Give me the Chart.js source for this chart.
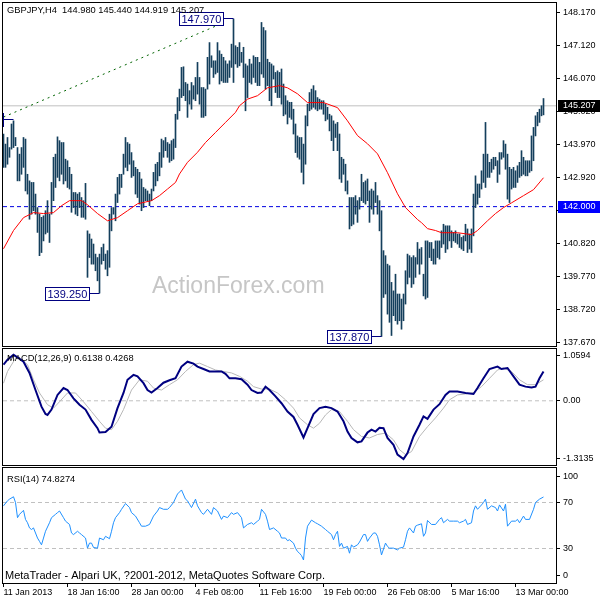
<!DOCTYPE html>
<html>
<head>
<meta charset="utf-8">
<title>GBPJPY H4</title>
<script src="https://cdn.jsdelivr.net/npm/chart.js@4/dist/chart.umd.min.js"></script>
<style>
  html, body { margin: 0; padding: 0; background: #fff; }
  #wrap { position: relative; width: 600px; height: 600px; overflow: hidden; background: #fff; }
  #wrap canvas { position: absolute; left: 0; }
</style>
</head>
<body>
<div id="wrap">
  <canvas id="priceChart" width="600" height="347" style="top:0"></canvas>
  <canvas id="macdChart" width="600" height="119" style="top:347px"></canvas>
  <canvas id="rsiChart" width="600" height="134" style="top:466px"></canvas>
</div>
<script>
// time axis: one H4 bar per index, labels every 32 bars
const tickBars = [0, 32, 64, 96, 128, 160, 192, 224, 256];
const tickLabels = ['11 Jan 2013', '18 Jan 16:00', '28 Jan 00:00', '4 Feb 08:00', '11 Feb 16:00',
  '19 Feb 00:00', '26 Feb 08:00', '5 Mar 16:00', '13 Mar 00:00'];

const priceTicks = [148.17, 147.12, 146.07, 145.02, 143.97, 142.92, 141.87, 140.82, 139.77, 138.72, 137.67];

const highs = [
  144.31,143.99,144.20,143.88,144.63,144.73,144.20,143.88,143.67,143.88,
  144.20,144.15,143.03,142.82,142.77,142.77,142.40,141.97,141.76,141.66,
  141.71,141.87,142.19,141.76,142.77,143.57,143.67,144.22,144.10,144.04,
  144.04,143.51,143.46,143.25,143.03,142.45,142.45,142.40,142.45,142.29,
  142.19,142.74,141.23,141.13,140.97,140.81,140.49,140.38,140.49,140.70,
  140.81,140.49,140.60,141.76,141.97,141.97,142.40,142.93,143.03,143.03,
  143.67,144.20,144.04,143.99,143.72,143.46,143.25,143.19,143.09,142.88,
  142.61,142.56,142.50,142.40,142.56,143.09,143.35,143.41,143.72,144.15,
  144.10,144.20,144.04,143.99,144.10,144.15,144.94,145.47,145.74,146.43,
  146.45,145.95,145.90,145.69,145.95,145.85,146.11,146.59,146.11,145.79,
  145.79,145.74,146.75,147.22,146.80,146.64,146.64,147.22,146.96,146.85,
  146.75,146.64,146.54,146.64,147.17,147.97,147.12,147.07,147.22,146.91,
  147.07,146.54,146.48,146.69,146.54,146.80,146.75,146.75,146.59,147.86,
  147.70,147.60,146.69,146.59,146.54,146.48,146.27,146.32,146.27,146.38,
  145.90,145.53,145.37,145.32,145.32,145.10,144.63,144.25,144.20,144.20,
  143.99,144.89,145.26,145.63,145.74,145.85,145.69,145.47,145.42,145.37,
  145.37,145.26,145.16,144.94,144.89,144.73,144.63,144.68,144.31,143.57,
  143.51,143.35,142.82,142.29,142.29,142.29,142.35,142.19,142.29,143.03,
  142.77,142.82,142.88,142.50,142.56,142.50,142.77,142.35,142.19,141.87,
  140.60,140.44,140.17,140.12,139.59,139.32,139.85,139.22,139.22,139.06,
  139.22,139.96,140.49,140.44,140.38,140.44,140.38,140.86,140.65,140.70,
  139.85,140.91,140.91,140.86,140.86,140.65,140.91,140.91,140.91,141.23,
  141.44,141.39,141.39,141.39,141.23,141.18,141.23,141.13,141.13,141.02,
  141.07,141.44,141.29,141.13,141.29,142.40,142.98,142.72,142.72,143.14,
  143.67,144.68,143.67,143.41,143.51,143.57,143.57,143.46,143.72,143.72,
  144.10,143.99,143.67,143.25,143.19,143.25,143.14,143.30,143.41,143.78,
  143.57,143.46,143.46,143.46,144.25,144.52,144.89,145.00,145.10,145.21,
  145.44
];
const lows = [
  143.25,143.25,143.35,143.57,143.83,143.88,143.94,142.82,142.82,143.03,
  143.25,142.50,142.40,141.60,141.76,141.87,141.76,141.18,140.44,140.54,
  140.91,141.13,141.18,140.86,141.76,142.19,142.61,142.93,142.82,143.03,
  142.72,142.82,142.61,142.56,141.82,141.97,141.76,141.71,141.97,141.66,
  141.66,141.60,139.75,140.38,140.17,140.17,139.96,139.64,139.25,140.17,
  140.28,140.01,139.80,140.07,141.23,141.76,141.55,142.13,142.40,142.61,
  143.03,143.25,143.14,143.35,142.93,142.98,142.40,142.29,142.08,141.87,
  141.97,142.19,142.19,142.03,142.19,142.50,142.66,142.82,142.98,143.25,
  143.57,143.78,143.57,143.41,143.46,143.51,143.88,144.78,145.05,145.47,
  145.53,145.37,144.84,145.26,145.10,145.42,145.37,145.58,145.26,144.84,
  144.84,144.89,145.74,145.90,146.43,146.11,146.22,146.27,145.90,146.00,
  145.95,145.95,145.95,146.11,146.43,145.95,146.54,146.43,146.48,146.59,
  146.11,145.05,145.47,145.95,145.90,146.11,145.95,145.85,145.85,146.22,
  146.11,145.74,145.85,145.37,145.21,146.06,145.63,145.47,145.47,145.26,
  144.89,144.94,144.63,144.84,144.78,144.31,143.72,143.57,143.51,143.09,
  142.72,143.35,144.57,145.05,145.10,145.16,145.10,145.05,145.10,145.10,
  144.94,144.73,144.78,144.41,144.10,143.78,144.20,143.78,142.88,142.77,
  143.03,142.50,142.40,141.29,141.39,141.44,141.76,141.50,141.92,142.19,
  142.13,142.08,142.19,141.50,141.92,141.76,142.13,141.76,141.23,137.87,
  139.11,139.22,138.58,138.32,137.90,138.53,138.37,138.26,138.37,138.10,
  138.37,138.90,139.54,139.75,139.43,139.54,139.75,140.17,139.85,140.17,
  139.16,139.06,139.11,140.38,140.28,140.17,140.17,140.38,140.33,140.70,
  140.81,140.54,140.65,140.91,140.70,140.91,140.86,140.81,140.70,140.65,
  140.60,140.91,140.54,140.65,140.54,141.07,141.97,142.08,142.29,142.56,
  142.77,142.61,142.93,142.93,143.09,143.19,143.30,142.77,143.03,143.51,
  143.57,143.19,142.24,142.13,142.56,142.61,142.61,142.77,142.93,142.98,
  143.03,142.98,142.98,143.09,143.14,143.46,144.25,144.57,144.68,144.89,
  144.92
];

// red moving average, read at these bars
const maBars = [0,5,10,15,20,25,29,33,39,42,47,52,57,62,67,
  74,78,82,86,88,92,97,101,106,111,116,118,122,127,132,138,
  142,147,152,160,167,172,177,182,187,192,197,201,207,209,212,216,219,227,234,237,242,246,250,254,260,265,270];
const maValues = [140.66,141.24,141.65,141.81,141.78,141.81,142.03,142.19,142.19,142.06,141.78,141.55,141.65,141.87,142.09,
  142.19,142.35,142.56,142.77,143.04,143.41,143.73,144.04,144.36,144.68,145.00,145.21,145.42,145.53,145.78,145.85,
  145.78,145.59,145.31,145.31,145.15,144.73,144.26,144.00,143.68,143.08,142.41,141.97,141.59,141.49,141.30,141.24,
  141.17,141.17,141.11,141.24,141.55,141.78,141.97,142.12,142.35,142.54,142.92];

const bidPrice = 145.207;
const supportPrice = 142.000;
const trendBars = [0, 110];
const trendPrices = [144.85, 147.85];
const swingBars = [115, 48, 189, 5];
const swingPrices = [147.97, 139.25, 137.87, 144.78];
const swingTexts = ['147.970', '139.250', '137.870', '144.780'];

const macdBars = [0,2,5,7,10,13,16,19,21,22,24,27,30,32,35,38,41,44,47,48,51,54,57,60,62,65,67,70,72,74,
  77,80,83,86,89,92,95,97,100,103,106,109,111,113,116,119,122,124,127,129,131,133,136,139,142,145,147,150,152,155,
  158,161,164,167,170,172,174,177,179,182,184,186,188,190,192,195,197,200,202,205,208,210,212,215,218,221,223,227,231,235,
  237,240,243,247,249,252,255,258,261,264,266,268,270];
const macdValues = [0.74,0.84,0.94,0.89,0.80,0.57,0.22,-0.12,-0.27,-0.29,-0.18,0.12,0.26,0.22,0.05,-0.08,-0.18,-0.39,-0.56,-0.65,
  -0.64,-0.53,-0.15,0.16,0.43,0.53,0.50,0.36,0.22,0.17,0.26,0.37,0.42,0.46,0.70,0.80,0.76,0.70,0.65,0.60,
  0.60,0.60,0.55,0.46,0.46,0.44,0.33,0.22,0.16,0.17,0.29,0.22,0.09,-0.05,-0.22,-0.33,-0.49,-0.75,-0.56,-0.27,
  -0.15,-0.12,-0.15,-0.22,-0.42,-0.63,-0.76,-0.85,-0.83,-0.65,-0.59,-0.63,-0.55,-0.56,-0.76,-0.90,-1.10,-1.19,-1.07,-0.73,
  -0.49,-0.32,-0.37,-0.18,-0.07,0.12,0.19,0.19,0.16,0.14,0.26,0.46,0.65,0.70,0.65,0.67,0.50,0.33,0.29,0.27,
  0.29,0.46,0.60];
const signalBars = [0,2,6,9,12,15,18,22,25,28,32,36,40,44,48,51,54,57,60,64,68,72,75,79,83,87,91,95,98,102,
  106,110,114,118,122,125,129,133,137,141,145,148,152,155,158,161,164,168,172,175,179,183,187,191,195,198,201,204,208,212,
  216,220,223,227,231,235,239,243,247,250,254,258,262,266,270];
const signalValues = [0.36,0.60,0.87,0.84,0.74,0.43,0.16,-0.08,-0.15,-0.02,0.16,0.16,-0.02,-0.22,-0.42,-0.56,-0.59,-0.42,-0.18,0.22,
  0.43,0.40,0.26,0.22,0.33,0.43,0.60,0.74,0.77,0.70,0.63,0.60,0.57,0.50,0.40,0.29,0.24,0.24,0.16,0.02,
  -0.15,-0.35,-0.49,-0.56,-0.46,-0.29,-0.18,-0.22,-0.42,-0.59,-0.73,-0.76,-0.69,-0.66,-0.80,-1.00,-1.10,-1.04,-0.73,-0.53,
  -0.35,-0.15,0.02,0.12,0.14,0.17,0.29,0.46,0.63,0.67,0.60,0.43,0.33,0.33,0.43];
const macdTickPos = [0.92, 0, -1.19];
const macdTickText = ['1.0594', '0.00', '-1.3135'];

const rsiBars = [0,2,3,5,6,7,8,10,11,12,13,14,15,17,18,19,20,21,23,24,26,27,28,30,31,33,34,35,37,38,
  39,41,42,43,44,45,47,48,50,51,53,54,55,56,58,59,61,63,64,66,68,69,71,73,75,77,78,80,82,83,
  85,87,89,91,92,93,94,96,97,99,100,102,104,105,107,109,110,112,114,115,117,119,120,122,124,125,127,128,129,131,
  132,133,135,137,138,139,141,142,143,145,146,147,148,149,150,151,152,154,156,157,159,161,162,164,165,166,167,168,169,170,
  172,173,174,175,177,178,180,181,182,183,185,186,187,188,189,191,192,193,195,197,198,200,201,202,203,205,206,207,209,210,
  211,212,214,216,218,219,220,222,223,225,227,228,230,231,232,234,235,236,237,239,240,241,242,244,246,247,248,250,251,252,
  254,256,257,258,260,261,263,265,266,268,270];
const rsiValues = [67.1,71.5,72.9,75.0,70.0,56.8,59.7,63.2,55.3,52.4,47.9,46.5,47.9,39.1,36.2,33.2,39.1,45.0,52.4,56.8,
  59.7,61.2,62.6,56.8,53.8,50.9,43.5,42.1,45.0,43.5,42.1,39.1,30.3,34.7,34.7,30.9,30.3,39.1,37.6,40.6,
  38.5,45.0,52.4,56.8,61.2,64.1,69.1,65.6,61.2,58.2,52.4,49.4,49.4,50.9,58.2,62.6,65.6,64.1,64.1,65.6,
  70.0,77.4,80.9,72.9,71.5,68.5,65.6,72.9,67.1,61.2,59.7,64.1,59.7,65.6,62.6,55.3,58.2,56.8,61.2,59.7,
  61.2,56.8,47.9,50.9,52.4,50.9,53.8,55.3,64.1,59.7,53.8,46.5,47.9,45.0,43.5,39.1,39.1,36.8,37.6,34.7,
  30.3,27.4,25.9,23.8,20.0,39.1,49.4,54.7,52.4,51.5,49.4,46.5,45.0,42.1,37.6,42.1,45.0,31.8,34.7,30.3,
  31.8,25.9,33.2,31.2,33.2,35.6,42.1,42.1,36.2,39.1,43.5,43.5,40.6,33.2,24.4,34.7,31.8,30.3,30.3,28.8,
  30.3,31.2,37.6,45.0,47.9,43.5,49.4,50.3,51.5,40.6,43.5,54.4,50.9,50.9,55.3,56.8,52.4,55.3,53.8,53.8,
  53.8,52.4,53.8,55.3,50.9,52.4,62.6,67.1,64.1,67.9,70.0,72.9,64.1,67.1,65.6,62.6,67.9,62.6,68.5,49.4,
  53.8,53.8,55.3,52.4,58.2,55.3,55.3,64.1,70.0,72.9,74.8];
const rsiLevels = [70, 30];
const rsiTickPos = [93, 70, 30, 6.5];
const rsiTickText = ['100', '70', '30', '0'];

const FONT = "'Liberation Sans', Arial, sans-serif";
Chart.defaults.font.family = FONT;
Chart.defaults.font.size = 9;
Chart.defaults.color = '#000';

const X_MIN = -0.25, X_MAX = 276.25;
const BAR_COLOR = '#143f5c';

function pts(xs, ys) {
  return xs.map((x, k) => ({ x: x, y: ys[k] }));
}

function flat(v) {
  return [{ x: X_MIN, y: v }, { x: X_MAX, y: v }];
}

function xAxis(show) {
  return {
    type: 'linear', min: X_MIN, max: X_MAX, offset: false, bounds: 'data', display: show,
    border: { display: false },
    grid: { drawOnChartArea: false, drawTicks: true, tickLength: 4, color: '#000', offset: false },
    ticks: { autoSkip: false, maxRotation: 0, minRotation: 0, align: 'start', padding: 0,
      callback: (v, i) => tickLabels[i] },
    afterBuildTicks: s => { s.ticks = tickBars.map(v => ({ value: v })); },
    afterFit: s => {
      s.height = show ? 17 : 0;
      s.paddingLeft = 0; s.paddingRight = 0;
    }
  };
}

function yAxis(min, max, pos, text) {
  return {
    position: 'right', min: min, max: max, bounds: 'data',
    border: { display: true, color: '#000' },
    grid: { drawOnChartArea: false, drawTicks: true, tickLength: 4, color: '#000' },
    ticks: { autoSkip: false, padding: 3, callback: (v, i) => text[i] },
    afterBuildTicks: s => { s.ticks = pos.map(v => ({ value: v })); },
    afterFit: s => { s.width = 44; s.paddingTop = 0; s.paddingBottom = 0; }
  };
}

const frame = {
  id: 'frame',
  afterDraw(chart) {
    const { ctx, chartArea: a } = chart;
    ctx.save();
    ctx.strokeStyle = '#000';
    ctx.lineWidth = 1;
    ctx.strokeRect(a.left - 0.5, a.top - 0.5, a.right - a.left + 1, a.bottom - a.top + 1);
    ctx.restore();
  }
};

const panelText = {
  id: 'panelText',
  afterDraw(chart, args, opts) {
    const ctx = chart.ctx;
    ctx.save();
    ctx.textBaseline = 'middle';
    ctx.textAlign = 'left';
    opts.items.forEach(t => {
      ctx.font = t.font || ('9.3px ' + FONT);
      ctx.fillStyle = '#000';
      ctx.fillText(t.text, t.x, t.y);
    });
    ctx.restore();
  }
};

const watermark = {
  id: 'watermark',
  beforeDatasetsDraw(chart) {
    const ctx = chart.ctx;
    ctx.save();
    ctx.font = '23px ' + FONT;
    ctx.fillStyle = '#c6c6c6';
    ctx.textBaseline = 'middle';
    ctx.fillText('ActionForex.com', 152, 287);
    ctx.restore();
  }
};

const labelBoxes = {
  id: 'labelBoxes',
  afterDatasetsDraw(chart) {
    const { ctx, chartArea: a, scales } = chart;
    ctx.save();
    ctx.beginPath();
    ctx.rect(a.left, a.top, a.right - a.left, a.bottom - a.top);
    ctx.clip();
    ctx.font = '11px ' + FONT;
    ctx.textBaseline = 'middle';
    ctx.lineWidth = 1;
    swingBars.forEach((b, k) => {
      const bx = scales.x.getPixelForValue(b);
      const yc = Math.floor(scales.y.getPixelForValue(swingPrices[k])) + 0.5;
      const right = bx - 10;
      const w = Math.round(ctx.measureText(swingTexts[k]).width) + 4;
      ctx.strokeStyle = '#000080';
      ctx.beginPath();
      ctx.moveTo(right, yc);
      ctx.lineTo(bx, yc);
      ctx.stroke();
      ctx.fillStyle = '#fff';
      ctx.fillRect(right - w, yc - 6, w, 13);
      ctx.strokeRect(right - w, yc - 6, w, 13);
      ctx.fillStyle = '#000080';
      ctx.fillText(swingTexts[k], right - w + 2, yc + 1);
    });
    ctx.restore();
  }
};

const axisTags = {
  id: 'axisTags',
  afterDraw(chart) {
    const { ctx, chartArea: a, scales } = chart;
    ctx.save();
    ctx.font = '9px ' + FONT;
    ctx.textBaseline = 'middle';
    [[bidPrice, '#000'], [supportPrice, '#0000ff']].forEach(([p, c]) => {
      const yc = Math.round(scales.y.getPixelForValue(p));
      ctx.fillStyle = c;
      ctx.fillRect(a.right + 2, yc - 6, 42, 12);
      ctx.fillStyle = '#fff';
      ctx.fillText(p.toFixed(3), a.right + 7, yc);
    });
    ctx.restore();
  }
};

const baseOptions = {
  responsive: false, animation: false, events: [], devicePixelRatio: 1
};

new Chart(document.getElementById('priceChart'), {
  type: 'bar',
  data: {
    datasets: [
      { type: 'line', data: flat(bidPrice), borderColor: '#c0c0c0', borderWidth: 1, pointRadius: 0, order: 6 },
      { type: 'line', data: flat(supportPrice), borderColor: '#0000e0', borderDash: [4, 3], borderWidth: 1, pointRadius: 0, order: 5 },
      { type: 'line', data: pts(trendBars, trendPrices), borderColor: '#006400', borderDash: [2, 4], borderWidth: 1, pointRadius: 0, order: 4 },
      { type: 'bar', data: highs.map((h, i) => ({ x: i, y: [lows[i], h] })), backgroundColor: BAR_COLOR,
        borderWidth: 0, barThickness: 1, order: 2 },
      { type: 'line', data: pts(maBars, maValues), borderColor: '#ff0000', borderWidth: 1, pointRadius: 0, order: 1 }
    ]
  },
  options: Object.assign({}, baseOptions, {
    layout: { padding: { left: 3, top: 3, right: 0, bottom: 1 } },
    plugins: {
      legend: { display: false }, tooltip: { enabled: false },
      panelText: { items: [{ text: 'GBPJPY,H4  144.980 145.440 144.919 145.207', x: 7, y: 10.5 }] }
    },
    scales: {
      x: xAxis(false),
      y: yAxis(137.566, 148.479, priceTicks, priceTicks.map(v => v.toFixed(3)))
    }
  }),
  plugins: [watermark, labelBoxes, frame, axisTags, panelText]
});

new Chart(document.getElementById('macdChart'), {
  type: 'line',
  data: {
    datasets: [
      { data: flat(0), borderColor: '#c0c0c0', borderDash: [4, 3], borderWidth: 1, pointRadius: 0, order: 3 },
      { data: pts(signalBars, signalValues), borderColor: '#b8b8b8', borderWidth: 1, pointRadius: 0, order: 2 },
      { data: pts(macdBars, macdValues), borderColor: '#000080', borderWidth: 2, pointRadius: 0, order: 1 }
    ]
  },
  options: Object.assign({}, baseOptions, {
    layout: { padding: { left: 3, top: 2, right: 0, bottom: 1 } },
    plugins: {
      legend: { display: false }, tooltip: { enabled: false },
      panelText: { items: [{ text: 'MACD(12,26,9) 0.6138 0.4268', x: 7, y: 11.5 }] }
    },
    scales: { x: xAxis(false), y: yAxis(-1.3135, 1.0594, macdTickPos, macdTickText) }
  }),
  plugins: [frame, panelText]
});

new Chart(document.getElementById('rsiChart'), {
  type: 'line',
  data: {
    datasets: rsiLevels.map(v => ({ data: flat(v), borderColor: '#c0c0c0', borderDash: [4, 3], borderWidth: 1, pointRadius: 0, order: 3 }))
      .concat([{ data: pts(rsiBars, rsiValues), borderColor: '#1e90ff', borderWidth: 1, pointRadius: 0, order: 1 }])
  },
  options: Object.assign({}, baseOptions, {
    layout: { padding: { left: 3, top: 2, right: 0, bottom: 0 } },
    plugins: {
      legend: { display: false }, tooltip: { enabled: false },
      panelText: { items: [
        { text: 'RSI(14) 74.8274', x: 7, y: 13 },
        { text: 'MetaTrader - Alpari UK, ?2001-2012, MetaQuotes Software Corp.', x: 5, y: 110, font: '11px ' + FONT }
      ] }
    },
    scales: { x: xAxis(true), y: yAxis(0, 100, rsiTickPos, rsiTickText) }
  }),
  plugins: [frame, panelText]
});
</script>
</body>
</html>
